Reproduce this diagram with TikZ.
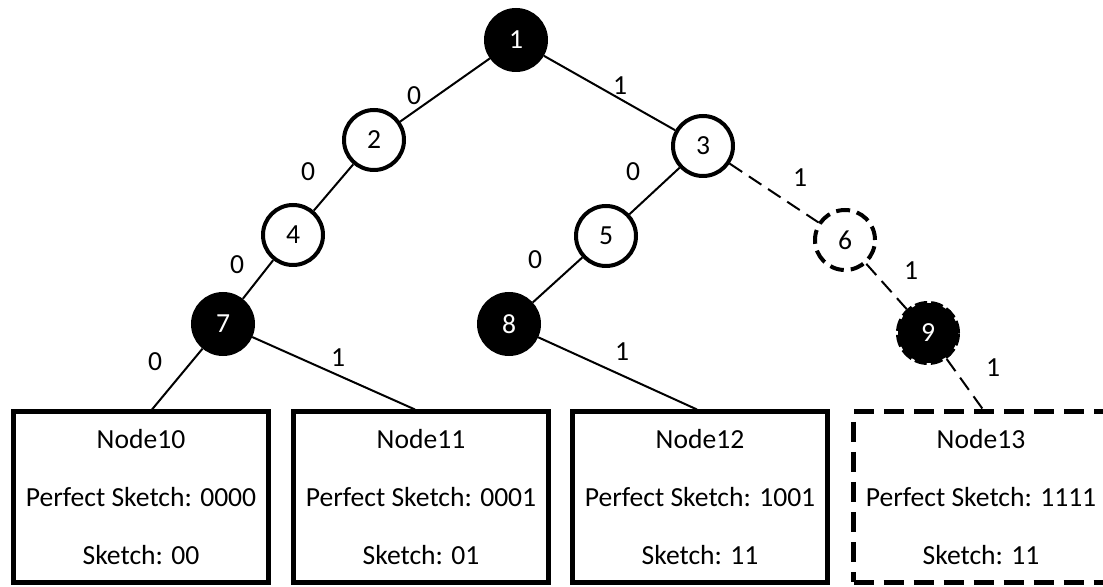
\documentclass[tikz,border=0pt]{standalone}
\usepackage{fontspec}
\setmainfont{Carlito}

\begin{document}
\begin{tikzpicture}[x=0.5pt,y=-0.5pt,font=\fontsize{13.8}{16}\selectfont,
  hollow/.style={circle,draw,line width=2pt,minimum size=30pt,inner sep=0pt},
  solid/.style={hollow,fill,text=white},
  lost/.style={dash pattern=on 7.5pt off 4pt},
  leaf/.style={draw,line width=2.5pt,minimum width=127.5pt,minimum height=85pt,align=center,font=\fontsize{13.8}{29}\selectfont}]

\useasboundingbox (0,0) rectangle (1103,587);

%tree nodes
\node[solid] at (516, 40)(n1){1};
\node[hollow] at (374, 140)(n2){2};
\node[hollow] at (703, 146)(n3){3};
\node[hollow] at (293, 235)(n4){4};
\node[hollow] at (606, 236)(n5){5};
\node[hollow, dash pattern=on 7pt off 3.5pt] at (845, 240)(n6){6};
\node[solid] at (223, 324)(n7){7};
\node[solid] at (509, 324)(n8){8};
\node[solid, dash pattern=on 6pt off 2pt] at (928, 333)(n9){9};

%leaves
\node[leaf] at (141, 497)(b10){Node10\\Perfect Sketch: 0000\\Sketch: 00};
\node[leaf] at (421, 497)(b11){Node11\\Perfect Sketch: 0001\\Sketch: 01};
\node[leaf] at (700, 497)(b12){Node12\\Perfect Sketch: 1001\\Sketch: 11};
\node[leaf, dash pattern=on 10pt off 5pt] at (981, 497)(b13){Node13\\Perfect Sketch: 1111\\Sketch: 11};

%branches
\draw[line width=1pt] (n1) -- (n2);
\draw[line width=1pt] (n1) -- (n3);
\draw[line width=1pt] (n2) -- (n4);
\draw[line width=1pt] (n3) -- (n5);
\draw[line width=1pt] (n4) -- (n7);
\draw[line width=1pt] (n5) -- (n8);
\draw[line width=1pt] (n7) -- ([xshift=5.5pt]b10.north);
\draw[line width=1pt] (n7) -- ([xshift=-3pt]b11.north);
\draw[line width=1pt] (n8) -- ([xshift=-1.5pt]b12.north);
\draw[line width=1pt, lost] (n3) -- (n6);
\draw[line width=1pt, lost] (n6) -- (n9);
\draw[line width=1pt, lost] (n9) -- ([xshift=1pt]b13.north);

%bits
\node at (414, 96)(c12){0};
\node at (620, 86)(c13){1};
\node at (308, 172)(c24){0};
\node at (633, 172)(c35){0};
\node at (800, 178)(c36){1};
\node at (237, 265)(c47){0};
\node at (535, 260)(c58){0};
\node at (911, 271)(c69){1};
\node at (155, 362)(c710){0};
\node at (338, 358)(c711){1};
\node at (622, 352)(c812){1};
\node at (993, 368)(c913){1};

\end{tikzpicture}
\end{document}
